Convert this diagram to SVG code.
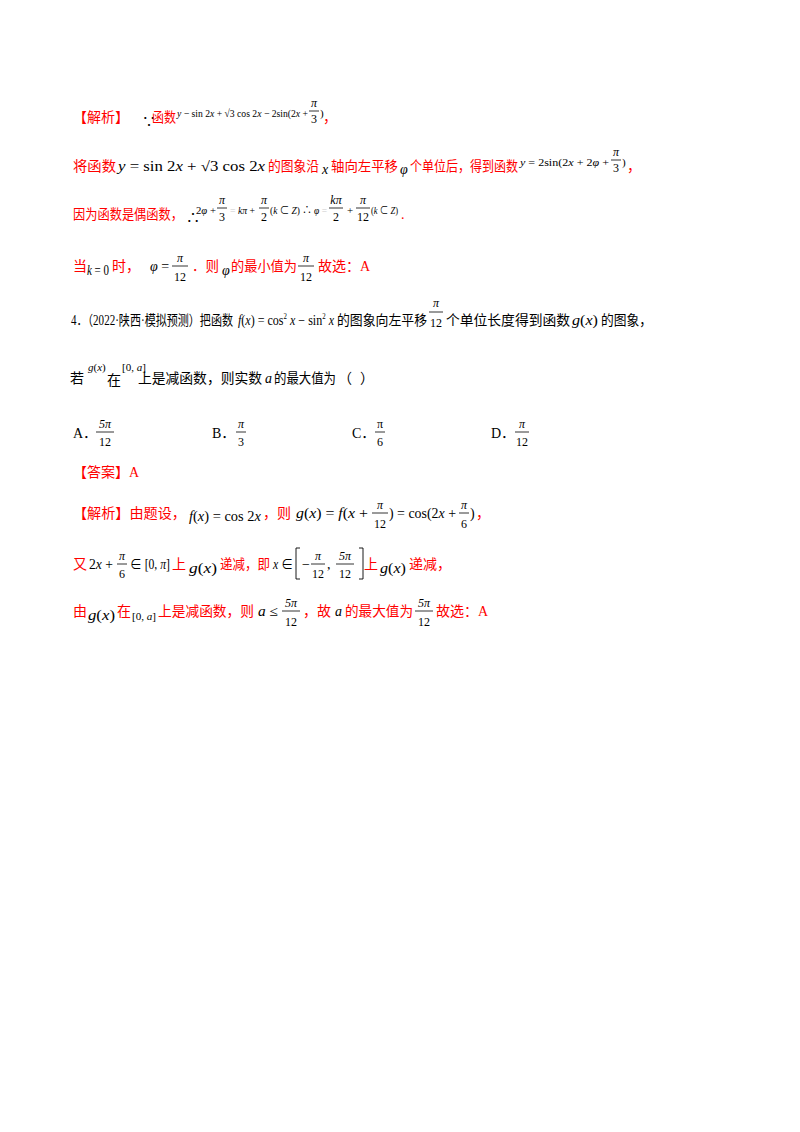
<svg xmlns="http://www.w3.org/2000/svg" width="800" height="1132" viewBox="0 0 800 1132">
<style>
text{font-family:"Liberation Serif","Noto Sans CJK SC",serif;font-size:14px;fill:#000}
.r{fill:#f00}
.m{font-style:italic}
.s{font-size:11px}
.f{font-size:12px;text-anchor:middle}
.g{fill:#ccc}
line{stroke:#000;stroke-width:0.8}
</style>
<rect width="800" height="1132" fill="#fff"/>
<g id="line1">
<text x="73" y="122" class="r">【解析】</text>
<text x="142" y="126" font-size="12">∵</text>
<text x="152" y="122" class="r" textLength="24" lengthAdjust="spacingAndGlyphs">函数</text>
<text x="177" y="117" class="s" textLength="131" lengthAdjust="spacingAndGlyphs"><tspan class="m">y</tspan> − sin 2<tspan class="m">x</tspan> + √3 cos 2<tspan class="m">x</tspan> − 2sin(2<tspan class="m">x</tspan> +</text>
<text x="314" y="107" class="s f m">π</text><line x1="309" y1="111" x2="319" y2="111"/><text x="314" y="123" class="s f">3</text>
<text x="320" y="117" class="s">)</text>
<text x="323" y="122" class="r">，</text>
</g>
<g id="line2">
<text x="73" y="171" class="r" textLength="43" lengthAdjust="spacingAndGlyphs">将函数</text>
<text x="118" y="171" textLength="147" lengthAdjust="spacingAndGlyphs"><tspan class="m">y</tspan> = sin 2<tspan class="m">x</tspan> + √3 cos 2<tspan class="m">x</tspan></text>
<text x="268" y="171" class="r" textLength="51" lengthAdjust="spacingAndGlyphs">的图象沿</text>
<text x="322" y="174" class="m">x</text>
<text x="331" y="171" class="r" textLength="67" lengthAdjust="spacingAndGlyphs">轴向左平移</text>
<text x="400" y="174" class="m">φ</text>
<text x="410" y="171" class="r" textLength="108" lengthAdjust="spacingAndGlyphs">个单位后，得到函数</text>
<text x="520" y="166" class="s" textLength="89" lengthAdjust="spacingAndGlyphs"><tspan class="m">y</tspan> = 2sin(2<tspan class="m">x</tspan> + 2<tspan class="m">φ</tspan> +</text>
<text x="616" y="156" class="s f m">π</text><line x1="611" y1="160" x2="621" y2="160"/><text x="616" y="172" class="s f">3</text>
<text x="622" y="166" class="s">)</text>
<text x="627" y="171" class="r">，</text>
</g>
<g id="line3">
<text x="73" y="219" class="r" textLength="110" lengthAdjust="spacingAndGlyphs">因为函数是偶函数，</text>
<text x="186" y="222" font-size="12">∴</text>
<text x="196" y="214" class="s" textLength="20" lengthAdjust="spacingAndGlyphs">2<tspan class="m">φ</tspan> +</text>
<text x="222" y="204" class="s f m">π</text><line x1="217" y1="208" x2="227" y2="208"/><text x="222" y="221" class="s f">3</text>
<text x="230" y="214" class="s" textLength="25" lengthAdjust="spacingAndGlyphs"><tspan class="g">=</tspan> <tspan class="m">kπ</tspan> +</text>
<text x="264" y="204" class="s f m">π</text><line x1="259" y1="208" x2="269" y2="208"/><text x="264" y="221" class="s f">2</text>
<text x="270" y="214" class="s" textLength="57" lengthAdjust="spacingAndGlyphs">(<tspan class="m">k</tspan> ⊂ <tspan class="m">Z</tspan>) ∴ <tspan class="m">φ</tspan> <tspan class="g">=</tspan></text>
<text x="336" y="204" class="s f m">kπ</text><line x1="329" y1="208" x2="343" y2="208"/><text x="336" y="221" class="s f">2</text>
<text x="347" y="214" class="s">+</text>
<text x="363" y="204" class="s f m">π</text><line x1="356" y1="208" x2="370" y2="208"/><text x="363" y="221" class="s f">12</text>
<text x="371" y="214" class="s" textLength="27" lengthAdjust="spacingAndGlyphs">(<tspan class="m">k</tspan> ⊂ <tspan class="m">Z</tspan>)</text>
<text x="401" y="219" class="r">.</text>
</g>
<g id="line4">
<text x="73" y="271" class="r">当</text>
<text x="87" y="275" textLength="22" lengthAdjust="spacingAndGlyphs"><tspan class="m">k</tspan> = 0</text>
<text x="112" y="271" class="r">时，</text>
<text x="150" y="271"><tspan class="m">φ</tspan> =</text>
<text x="180" y="262" class="f m">π</text><line x1="172" y1="266" x2="188" y2="266"/><text x="180" y="281" class="f">12</text>
<text x="192" y="271" class="r" textLength="27" lengthAdjust="spacingAndGlyphs">．则</text>
<text x="222" y="275" class="m">φ</text>
<text x="231" y="271" class="r" textLength="66" lengthAdjust="spacingAndGlyphs">的最小值为</text>
<text x="306" y="262" class="f m">π</text><line x1="298" y1="266" x2="314" y2="266"/><text x="306" y="281" class="f">12</text>
<text x="318" y="271" class="r">故选：A</text>
</g>
<g id="q4">
<text x="71" y="325" textLength="162" lengthAdjust="spacingAndGlyphs">4．（2022·陕西·模拟预测）把函数</text>
<text x="238" y="325" textLength="96" lengthAdjust="spacingAndGlyphs"><tspan class="m">f</tspan>(<tspan class="m">x</tspan>) = cos<tspan font-size="8" dy="-6">2</tspan><tspan dy="6"> </tspan><tspan class="m">x</tspan> − sin<tspan font-size="8" dy="-6">2</tspan><tspan dy="6"> </tspan><tspan class="m">x</tspan></text>
<text x="337" y="325" textLength="90" lengthAdjust="spacingAndGlyphs">的图象向左平移</text>
<text x="436" y="307" class="f m">π</text><line x1="429" y1="312" x2="443" y2="312"/><text x="436" y="327" class="f">12</text>
<text x="446" y="325" textLength="124" lengthAdjust="spacingAndGlyphs">个单位长度得到函数</text>
<text x="572" y="325" textLength="26" lengthAdjust="spacingAndGlyphs"><tspan class="m">g</tspan>(<tspan class="m">x</tspan>)</text>
<text x="601" y="325" textLength="51" lengthAdjust="spacingAndGlyphs">的图象，</text>
<text x="70" y="383">若</text>
<text x="88" y="371" class="s"><tspan class="m">g</tspan>(<tspan class="m">x</tspan>)</text>
<text x="107" y="385">在</text>
<text x="122" y="371" class="s">[0, <tspan class="m">a</tspan>]</text>
<text x="138" y="383" textLength="124" lengthAdjust="spacingAndGlyphs">上是减函数，则实数</text>
<text x="265" y="383" class="m">a</text>
<text x="274" y="383" textLength="62" lengthAdjust="spacingAndGlyphs">的最大值为</text>
<text x="338" y="383">（</text>
<text x="360" y="383">）</text>
</g>
<g id="options">
<text x="73" y="438">A．</text>
<text x="105" y="428" class="f m">5π</text><line x1="96" y1="432" x2="114" y2="432"/><text x="105" y="446" class="f">12</text>
<text x="212" y="438">B．</text>
<text x="241" y="428" class="f m">π</text><line x1="236" y1="432" x2="246" y2="432"/><text x="241" y="446" class="f">3</text>
<text x="352" y="438">C．</text>
<text x="380" y="428" class="f">π</text><line x1="375" y1="432" x2="385" y2="432"/><text x="380" y="446" class="f">6</text>
<text x="491" y="438">D．</text>
<text x="522" y="428" class="f m">π</text><line x1="515" y1="432" x2="529" y2="432"/><text x="522" y="446" class="f">12</text>
</g>
<g id="answer">
<text x="73" y="477" class="r">【答案】A</text>
</g>
<g id="sol1">
<text x="73" y="518" class="r" textLength="113" lengthAdjust="spacingAndGlyphs">【解析】由题设，</text>
<text x="189" y="521" textLength="72" lengthAdjust="spacingAndGlyphs"><tspan class="m">f</tspan>(<tspan class="m">x</tspan>) = cos 2<tspan class="m">x</tspan></text>
<text x="263" y="518" class="r" textLength="28" lengthAdjust="spacingAndGlyphs">，则</text>
<text x="296" y="518" textLength="72" lengthAdjust="spacingAndGlyphs"><tspan class="m">g</tspan>(<tspan class="m">x</tspan>) = <tspan class="m">f</tspan>(<tspan class="m">x</tspan> +</text>
<text x="380" y="509" class="f m">π</text><line x1="372" y1="513" x2="388" y2="513"/><text x="380" y="528" class="f">12</text>
<text x="389" y="518" textLength="67" lengthAdjust="spacingAndGlyphs">) = cos(2<tspan class="m">x</tspan> +</text>
<text x="464" y="509" class="f m">π</text><line x1="459" y1="513" x2="469" y2="513"/><text x="464" y="528" class="f">6</text>
<text x="470" y="518">)</text>
<text x="476" y="518" class="r">，</text>
</g>
<g id="sol2">
<text x="73" y="569" class="r">又</text>
<text x="89" y="569" textLength="24" lengthAdjust="spacingAndGlyphs">2<tspan class="m">x</tspan> +</text>
<text x="122" y="560" class="f m">π</text><line x1="117" y1="564" x2="127" y2="564"/><text x="122" y="578" class="f">6</text>
<text x="130" y="569" textLength="40" lengthAdjust="spacingAndGlyphs">∈ [0, <tspan class="m">π</tspan>]</text>
<text x="172" y="569" class="r">上</text>
<text x="189" y="573" textLength="28" lengthAdjust="spacingAndGlyphs"><tspan class="m">g</tspan>(<tspan class="m">x</tspan>)</text>
<text x="220" y="569" class="r" textLength="50" lengthAdjust="spacingAndGlyphs">递减，即</text>
<text x="273" y="569" textLength="20" lengthAdjust="spacingAndGlyphs"><tspan class="m">x</tspan> ∈</text>
<path d="M300 548 H296 V579 H300 M359 548 H363 V579 H359" fill="none" stroke="#000" stroke-width="0.9"/>
<text x="302" y="569">−</text>
<text x="318" y="560" class="f m">π</text><line x1="311" y1="564" x2="325" y2="564"/><text x="318" y="578" class="f">12</text>
<text x="327" y="569">,</text>
<text x="345" y="560" class="f m">5π</text><line x1="336" y1="564" x2="354" y2="564"/><text x="345" y="578" class="f">12</text>
<text x="364" y="569" class="r">上</text>
<text x="380" y="573" textLength="26" lengthAdjust="spacingAndGlyphs"><tspan class="m">g</tspan>(<tspan class="m">x</tspan>)</text>
<text x="409" y="569" class="r">递减，</text>
</g>
<g id="sol3">
<text x="73" y="616" class="r">由</text>
<text x="88" y="620" textLength="27" lengthAdjust="spacingAndGlyphs"><tspan class="m">g</tspan>(<tspan class="m">x</tspan>)</text>
<text x="117" y="616" class="r">在</text>
<text x="132" y="620" class="s" textLength="24" lengthAdjust="spacingAndGlyphs">[0, <tspan class="m">a</tspan>]</text>
<text x="158" y="616" class="r" textLength="96" lengthAdjust="spacingAndGlyphs">上是减函数，则</text>
<text x="258" y="616" textLength="20" lengthAdjust="spacingAndGlyphs"><tspan class="m">a</tspan> ≤</text>
<text x="291" y="607" class="f m">5π</text><line x1="282" y1="611" x2="300" y2="611"/><text x="291" y="626" class="f">12</text>
<text x="303" y="616" class="r">，故</text>
<text x="335" y="616" class="m">a</text>
<text x="345" y="616" class="r" textLength="68" lengthAdjust="spacingAndGlyphs">的最大值为</text>
<text x="424" y="607" class="f m">5π</text><line x1="415" y1="611" x2="433" y2="611"/><text x="424" y="626" class="f">12</text>
<text x="436" y="616" class="r">故选：A</text>
</g>
</svg>
